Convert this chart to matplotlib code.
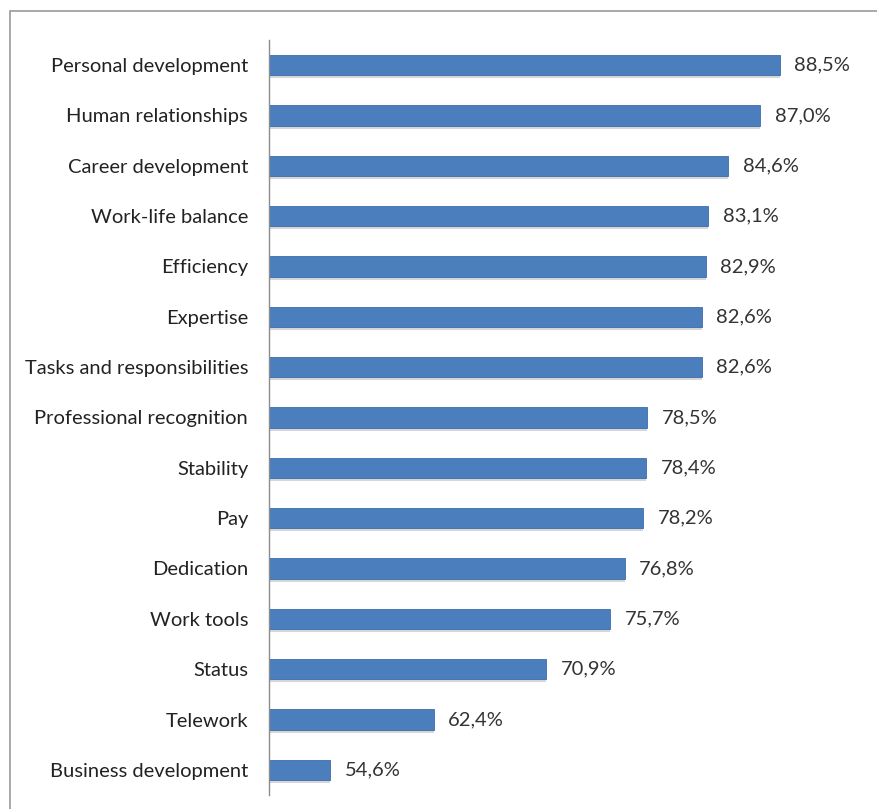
import matplotlib.pyplot as plt
from matplotlib.patches import Rectangle

categories = [
    "Personal development", "Human relationships", "Career development",
    "Work-life balance", "Efficiency", "Expertise",
    "Tasks and responsibilities", "Professional recognition", "Stability",
    "Pay", "Dedication", "Work tools", "Status", "Telework",
    "Business development",
]
values = [88.5, 87.0, 84.6, 83.1, 82.9, 82.6, 82.6, 78.5, 78.4, 78.2,
          76.8, 75.7, 70.9, 62.4, 54.6]

plt.rcParams['font.family'] = ['Lato', 'DejaVu Sans']

fig = plt.figure(figsize=(8.78, 8.09), dpi=100)
ax = fig.add_axes([0.3064, 0.0173, 0.68, 0.9333])

# frame around the chart area
fig.patches.append(Rectangle((10 / 878, -0.1), 1.2, 1 - 11 / 809 + 0.1,
                             transform=fig.transFigure, fill=False,
                             edgecolor='#9a9a9a', linewidth=1.2))

y = list(range(len(categories)))
# soft shadow under each bar
ax.barh([i + 0.06 for i in y], [v - 50 for v in values], left=50, height=0.4,
        color='#bcbcbc', alpha=0.6, zorder=1)
ax.barh(y, [v - 50 for v in values], left=50, height=0.4,
        color='#4a7ebd', edgecolor='#3d6da8', linewidth=0.6, zorder=2)

for i, v in zip(y, values):
    ax.text(v + 1.1, i, f"{v:.1f}%".replace('.', ','), va='center', ha='left',
            fontsize=14.5, color='#333333')

ax.set_xlim(50, 95)
ax.set_ylim(len(categories) - 0.5, -0.5)
ax.set_yticks(y)
ax.set_yticklabels(categories, fontsize=14.5, color='#222222')
ax.tick_params(axis='y', length=0, pad=15)
ax.set_xticks([])
for side in ['top', 'right', 'bottom']:
    ax.spines[side].set_visible(False)
ax.spines['left'].set_color('#8c8c8c')
ax.spines['left'].set_linewidth(1)

plt.savefig('out.png', dpi=100)
